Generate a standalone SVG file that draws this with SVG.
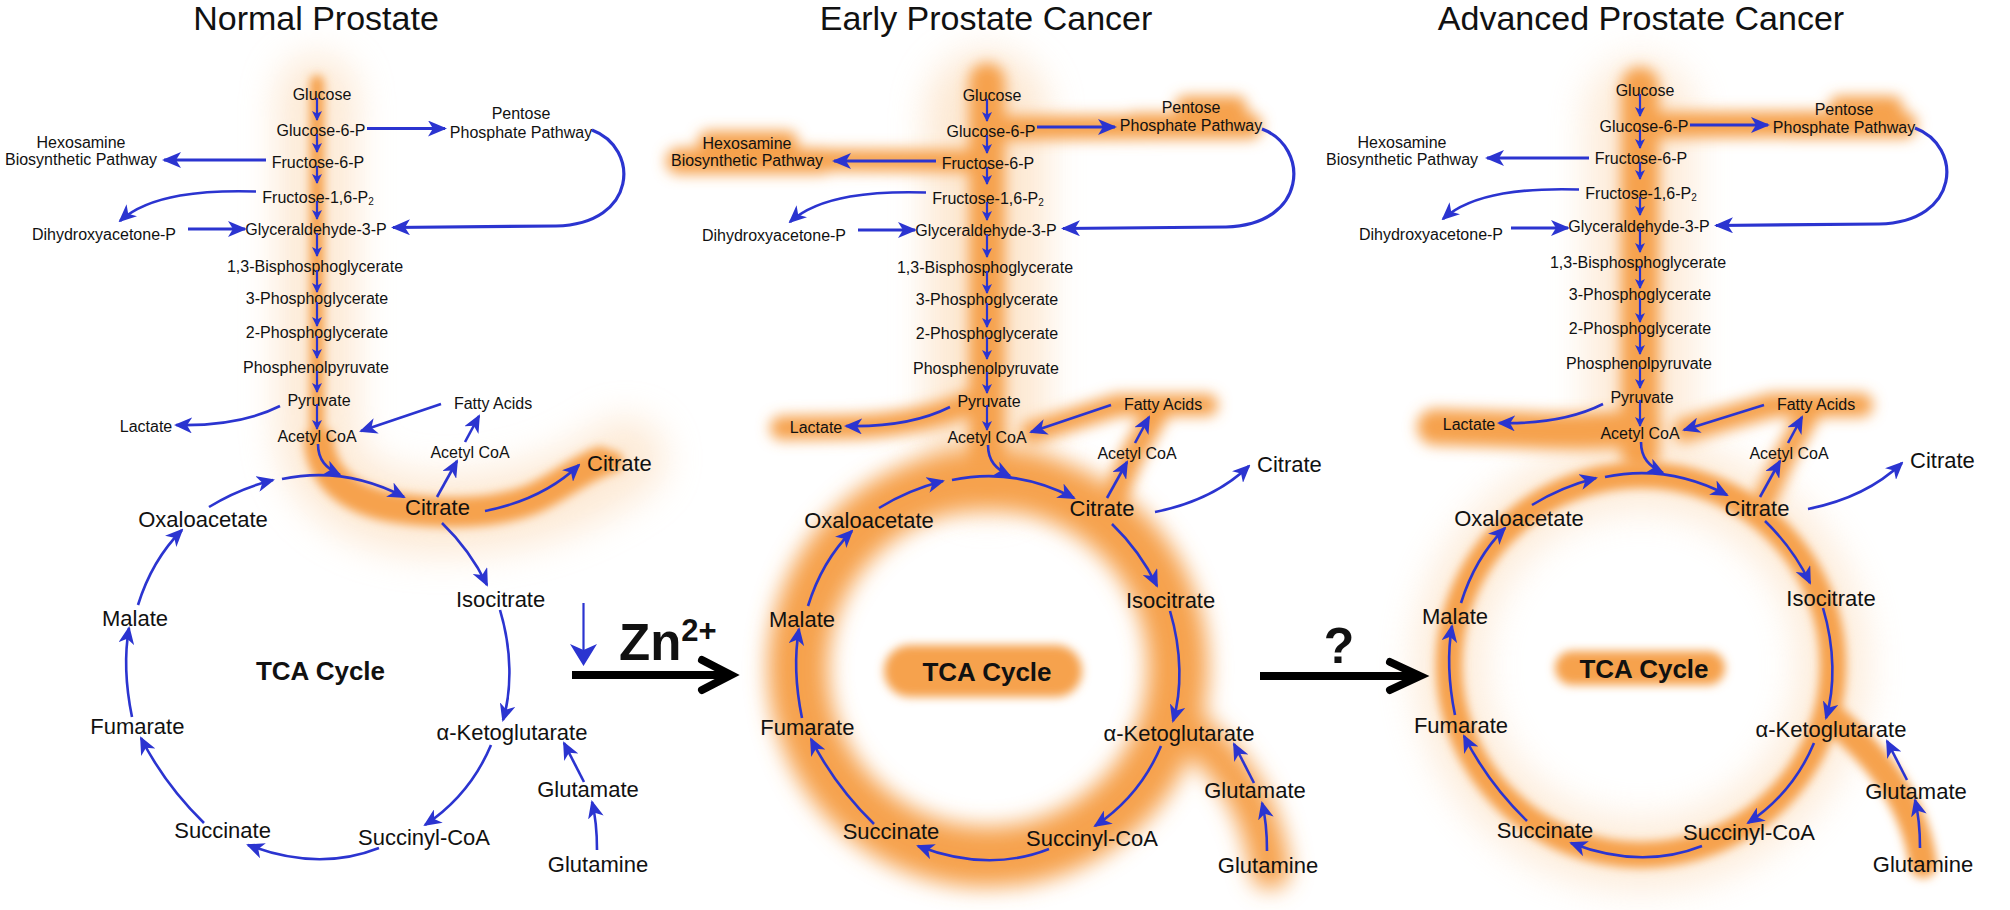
<svg xmlns="http://www.w3.org/2000/svg" width="2010" height="910" viewBox="0 0 2010 910">
<defs>
<style>
text{font-family:"Liberation Sans",Arial,Helvetica,sans-serif;fill:#111}
.ttl{font-size:34px;text-anchor:middle}
.g{font-size:16px;text-anchor:middle}
.t{font-size:22px;text-anchor:middle}
.tca{font-size:26px;font-weight:bold;text-anchor:middle}
.e{fill:none;stroke:#2b34d0;stroke-width:2.6;marker-end:url(#ah)}
.s{fill:none;stroke:#2b34d0;stroke-width:2.2;marker-end:url(#as)}
.w{fill:none;stroke:#2b34d0;stroke-width:3.2;marker-end:url(#aw)}
.o{fill:none;stroke:#f6a24e;stroke-linecap:round}
.of{fill:#f6a24e}
.h{fill:none;stroke:#fbd6ae;stroke-linecap:round}
.blk{fill:none;stroke:#000;stroke-width:8}
</style>
<marker id="ah" markerUnits="userSpaceOnUse" viewBox="0 0 18 16" markerWidth="18" markerHeight="16" refX="16" refY="8" orient="auto"><path d="M0,0 L18,8 L0,16 L5,8 Z" fill="#2b34d0"/></marker>
<marker id="aw" markerUnits="userSpaceOnUse" viewBox="0 0 19 16" markerWidth="19" markerHeight="16" refX="17" refY="8" orient="auto"><path d="M0,0 L19,8 L0,16 L5,8 Z" fill="#2b34d0"/></marker>
<marker id="as" markerUnits="userSpaceOnUse" viewBox="0 0 10 10" markerWidth="10" markerHeight="10" refX="9" refY="5" orient="auto"><path d="M0,0 L10,5 L0,10 L2.5,5 Z" fill="#2b34d0"/></marker>
<filter id="b5" filterUnits="userSpaceOnUse" x="-200" y="-100" width="2400" height="1100"><feGaussianBlur stdDeviation="5"/></filter>
<filter id="b7" filterUnits="userSpaceOnUse" x="-200" y="-100" width="2400" height="1100"><feGaussianBlur stdDeviation="7"/></filter>
<filter id="b11" filterUnits="userSpaceOnUse" x="-200" y="-100" width="2400" height="1100"><feGaussianBlur stdDeviation="11"/></filter>
<filter id="b18" filterUnits="userSpaceOnUse" x="-200" y="-100" width="2400" height="1100"><feGaussianBlur stdDeviation="18"/></filter>
</defs>
<rect width="2010" height="910" fill="#fff"/>

<!-- ===== Panel 1: Normal ===== -->
<g id="panel-normal">
 <g id="p1-glow">
  <g filter="url(#b18)" opacity="0.5"><path class="h" stroke-width="80" d="M317,95 L317,430 C317,490 380,515 440,515 C520,515 580,490 625,458"/></g>
  <g filter="url(#b5)">
   <path class="o" stroke-width="14" d="M317,82 L317,440"/>
   <path class="o" stroke-width="30" d="M319,442 C322,475 345,500 397,508 C440,514 490,515 530,500 C555,490 575,472 600,462"/>
   <path class="o" stroke-width="22" d="M590,462 L612,462"/>
  </g>
 </g>
 <g id="p1-nodes">
  <g id="p1-glucose"><text class="g" x="322" y="100">Glucose</text></g>
  <g id="p1-g6p"><text class="g" x="321" y="136">Glucose-6-P</text></g>
  <g id="p1-f6p"><text class="g" x="318" y="168">Fructose-6-P</text></g>
  <g id="p1-f16p2"><text class="g" x="318" y="203">Fructose-1,6-P<tspan font-size="10" dy="2">2</tspan></text></g>
  <g id="p1-g3p"><text class="g" x="316" y="235">Glyceraldehyde-3-P</text></g>
  <g id="p1-bpg"><text class="g" x="315" y="272">1,3-Bisphosphoglycerate</text></g>
  <g id="p1-3pg"><text class="g" x="317" y="304">3-Phosphoglycerate</text></g>
  <g id="p1-2pg"><text class="g" x="317" y="338">2-Phosphoglycerate</text></g>
  <g id="p1-pep"><text class="g" x="316" y="373">Phosphenolpyruvate</text></g>
  <g id="p1-pyruvate"><text class="g" x="319" y="406">Pyruvate</text></g>
  <g id="p1-acoa"><text class="g" x="317" y="442">Acetyl CoA</text></g>
  <g id="p1-ppp"><text class="g" x="521" y="119">Pentose</text><text class="g" x="521" y="137.5">Phosphate Pathway</text></g>
  <g id="p1-hex"><text class="g" x="81" y="147.5">Hexosamine</text><text class="g" x="81" y="165">Biosynthetic Pathway</text></g>
  <g id="p1-dhap"><text class="g" x="104" y="240">Dihydroxyacetone-P</text></g>
  <g id="p1-lactate"><text class="g" x="146" y="432">Lactate</text></g>
  <g id="p1-fatty"><text class="g" x="493" y="409">Fatty Acids</text></g>
  <g id="p1-acoa2"><text class="g" x="470" y="457.5">Acetyl CoA</text></g>
  <g id="p1-citrate-out"><text class="t" x="587" y="471" style="text-anchor:start">Citrate</text></g>
  <g id="p1-citrate"><text class="t" x="437.5" y="515">Citrate</text></g>
  <g id="p1-isocitrate"><text class="t" x="500.6" y="607">Isocitrate</text></g>
  <g id="p1-akg"><text class="t" x="512" y="740">α-Ketoglutarate</text></g>
  <g id="p1-succoa"><text class="t" x="424" y="845">Succinyl-CoA</text></g>
  <g id="p1-succinate"><text class="t" x="222.6" y="838">Succinate</text></g>
  <g id="p1-fumarate"><text class="t" x="137.4" y="734">Fumarate</text></g>
  <g id="p1-malate"><text class="t" x="135" y="626">Malate</text></g>
  <g id="p1-oaa"><text class="t" x="203" y="527">Oxaloacetate</text></g>
  <g id="p1-glutamate"><text class="t" x="588" y="797">Glutamate</text></g>
  <g id="p1-glutamine"><text class="t" x="598" y="872">Glutamine</text></g>
  <g id="p1-tca"><text class="tca" x="320.5" y="679.5">TCA Cycle</text></g>
 </g>
 <g id="p1-connectors">
  <path class="s" d="M317,98 L317,120"/><path class="s" d="M317,134 L317,152"/><path class="s" d="M317,166 L317,183"/>
  <path class="s" d="M317,201 L317,219"/><path class="s" d="M317,233 L317,256"/><path class="s" d="M317,270 L317,292"/>
  <path class="s" d="M317,302 L317,326"/><path class="s" d="M317,336 L317,358"/><path class="s" d="M317,371 L317,392"/>
  <path class="s" d="M317,404 L317,429"/>
  <path class="w" d="M367,128.5 L445,128.5"/>
  <path class="w" d="M266,160 L164,160"/>
  <path class="w" d="M188,229 L245,229"/>
  <path class="w" d="M592,130 C640,148 638,224 556,226 L393,227.5"/>
  <path class="e" d="M256,191.5 C205,190 150,194 120,221"/>
  <path class="e" d="M280,406 C250,421 215,426 176,425"/>
  <path class="e" d="M441,404 L361,431"/>
  <path class="e" d="M437,497 L457,461"/>
  <path class="e" d="M465,442 L479,416"/>
  <path class="e" d="M318,444 C318,460 326,468 340,475"/>
  <path class="e" d="M209,507 Q238,489 273,480"/>
  <path class="e" d="M282,479 Q345,466 404,497"/>
  <path class="e" d="M485,511 C525,503 555,488 579,465"/>
  <path class="e" d="M442,523 Q470,550 487,585"/>
  <path class="e" d="M500,610 C512,650 512,690 503,720"/>
  <path class="e" d="M491,745 Q470,795 425,825"/>
  <path class="e" d="M379,848 Q318,872 248,845"/>
  <path class="e" d="M204,823 Q165,785 141,738"/>
  <path class="e" d="M132,717 Q122,668 129,628"/>
  <path class="e" d="M138,605 Q152,560 182,530"/>
  <path class="e" d="M584,782 L564,743"/>
  <path class="e" d="M597,850 Q597,822 592,802"/>
 </g>
</g>

<!-- ===== Panel 2: Early ===== -->
<g id="panel-early" transform="translate(670,1)">
 <g id="p2-glow">
  <g filter="url(#b18)" opacity="0.55"><path class="h" stroke-width="120" d="M317,110 L317,450"/></g>
  <g filter="url(#b7)">
   <path class="o" stroke-width="36" d="M317,80 L317,470"/>
   <path class="o" stroke-width="24" d="M320,127 L500,126"/>
   <rect class="of" x="452" y="112" width="140" height="26" rx="13"/>
   <rect class="of" x="505" y="95" width="72" height="22" rx="11"/>
   <path class="o" stroke-width="22" d="M160,159 L300,160"/>
   <rect class="of" x="-4" y="147" width="168" height="26" rx="13"/>
   <rect class="of" x="28" y="130" width="100" height="22" rx="11"/>
   <path class="o" stroke-width="24" d="M112,427 L178,426 C222,425 262,418 300,402"/>
   <path class="o" stroke-width="22" d="M537,404 L448,404 L362,431"/>
   <path class="o" stroke-width="24" d="M440,505 L462,455 L488,410"/>
  </g>
  <g filter="url(#b11)">
   <ellipse cx="318" cy="667" rx="190" ry="189" fill="none" stroke="#f6a24e" stroke-width="60"/>
   <path class="o" stroke-width="40" d="M515,725 C560,760 592,805 600,868"/>
  </g>
  <g filter="url(#b5)"><rect class="of" x="214" y="644" width="198" height="52" rx="26"/></g>
 </g>
 <g id="p2-nodes">
  <g id="p2-glucose"><text class="g" x="322" y="100">Glucose</text></g>
  <g id="p2-g6p"><text class="g" x="321" y="136">Glucose-6-P</text></g>
  <g id="p2-f6p"><text class="g" x="318" y="168">Fructose-6-P</text></g>
  <g id="p2-f16p2"><text class="g" x="318" y="203">Fructose-1,6-P<tspan font-size="10" dy="2">2</tspan></text></g>
  <g id="p2-g3p"><text class="g" x="316" y="235">Glyceraldehyde-3-P</text></g>
  <g id="p2-bpg"><text class="g" x="315" y="272">1,3-Bisphosphoglycerate</text></g>
  <g id="p2-3pg"><text class="g" x="317" y="304">3-Phosphoglycerate</text></g>
  <g id="p2-2pg"><text class="g" x="317" y="338">2-Phosphoglycerate</text></g>
  <g id="p2-pep"><text class="g" x="316" y="373">Phosphenolpyruvate</text></g>
  <g id="p2-pyruvate"><text class="g" x="319" y="406">Pyruvate</text></g>
  <g id="p2-acoa"><text class="g" x="317" y="442">Acetyl CoA</text></g>
  <g id="p2-ppp"><text class="g" x="521" y="112">Pentose</text><text class="g" x="521" y="130">Phosphate Pathway</text></g>
  <g id="p2-hex"><text class="g" x="77" y="147.5">Hexosamine</text><text class="g" x="77" y="165">Biosynthetic Pathway</text></g>
  <g id="p2-dhap"><text class="g" x="104" y="240">Dihydroxyacetone-P</text></g>
  <g id="p2-lactate"><text class="g" x="146" y="432">Lactate</text></g>
  <g id="p2-fatty"><text class="g" x="493" y="409">Fatty Acids</text></g>
  <g id="p2-acoa2"><text class="g" x="467" y="457.5">Acetyl CoA</text></g>
  <g id="p2-citrate-out"><text class="t" x="587" y="471" style="text-anchor:start">Citrate</text></g>
  <g id="p2-citrate"><text class="t" x="432" y="515">Citrate</text></g>
  <g id="p2-isocitrate"><text class="t" x="500.6" y="607">Isocitrate</text></g>
  <g id="p2-akg"><text class="t" x="509" y="740">α-Ketoglutarate</text></g>
  <g id="p2-succoa"><text class="t" x="422" y="845">Succinyl-CoA</text></g>
  <g id="p2-succinate"><text class="t" x="221" y="838">Succinate</text></g>
  <g id="p2-fumarate"><text class="t" x="137.4" y="734">Fumarate</text></g>
  <g id="p2-malate"><text class="t" x="132" y="626">Malate</text></g>
  <g id="p2-oaa"><text class="t" x="199" y="527">Oxaloacetate</text></g>
  <g id="p2-glutamate"><text class="t" x="585" y="797">Glutamate</text></g>
  <g id="p2-glutamine"><text class="t" x="598" y="872">Glutamine</text></g>
  <g id="p2-tca"><text class="tca" x="317" y="679.5">TCA Cycle</text></g>
 </g>
 <g id="p2-connectors">
  <path class="s" d="M317,98 L317,120"/><path class="s" d="M317,134 L317,152"/><path class="s" d="M317,166 L317,183"/>
  <path class="s" d="M317,201 L317,219"/><path class="s" d="M317,233 L317,256"/><path class="s" d="M317,270 L317,292"/>
  <path class="s" d="M317,302 L317,326"/><path class="s" d="M317,336 L317,358"/><path class="s" d="M317,371 L317,392"/>
  <path class="s" d="M317,404 L317,429"/>
  <path class="w" d="M367,126 L445,126"/>
  <path class="w" d="M266,160 L164,160"/>
  <path class="w" d="M188,229 L245,229"/>
  <path class="w" d="M592,128 C640,146 638,224 556,226 L393,227.5"/>
  <path class="e" d="M256,191.5 C205,190 150,194 120,221"/>
  <path class="e" d="M280,406 C250,421 215,426 176,425"/>
  <path class="e" d="M441,404 L361,431"/>
  <path class="e" d="M437,497 L457,461"/>
  <path class="e" d="M465,442 L479,416"/>
  <path class="e" d="M318,444 C318,460 326,468 340,475"/>
  <path class="e" d="M209,507 Q238,489 273,480"/>
  <path class="e" d="M282,479 Q345,466 404,497"/>
  <path class="e" d="M485,511 C525,503 555,488 579,465"/>
  <path class="e" d="M442,523 Q470,550 487,585"/>
  <path class="e" d="M500,610 C512,650 512,690 503,720"/>
  <path class="e" d="M491,745 Q470,795 425,825"/>
  <path class="e" d="M379,848 Q318,872 248,845"/>
  <path class="e" d="M204,823 Q165,785 141,738"/>
  <path class="e" d="M132,717 Q122,668 129,628"/>
  <path class="e" d="M138,605 Q152,560 182,530"/>
  <path class="e" d="M584,782 L564,743"/>
  <path class="e" d="M597,850 Q597,822 592,802"/>
 </g>
</g>

<!-- ===== Panel 3: Advanced ===== -->
<g id="panel-advanced" transform="translate(1323,-2)">
 <g id="p3-glow">
  <g filter="url(#b18)" opacity="0.45">
   <path class="h" stroke-width="110" d="M317,115 L317,445"/>
   <ellipse cx="318" cy="667" rx="192" ry="190" fill="none" stroke="#fbd6ae" stroke-width="70"/>
  </g>
  <g filter="url(#b7)">
   <path class="o" stroke-width="38" d="M317,88 L317,455"/>
   <path class="o" stroke-width="26" d="M330,127 L500,126"/>
   <rect class="of" x="452" y="114" width="142" height="26" rx="13"/>
   <rect class="of" x="506" y="98" width="74" height="22" rx="11"/>
   <path class="o" stroke-width="36" d="M112,429 L200,432 C250,435 290,432 320,430"/>
   <path class="o" stroke-width="24" d="M538,407 L450,407 L362,432"/>
   <path class="o" stroke-width="22" d="M440,505 L462,458 L488,412"/>
  </g>
  <g filter="url(#b5)">
   <ellipse cx="318" cy="667" rx="192" ry="190" fill="none" stroke="#f6a24e" stroke-width="26"/>
   <path class="o" stroke-width="28" d="M512,722 C555,760 592,805 600,866"/>
   <rect class="of" x="232" y="653" width="170" height="34" rx="17"/>
  </g>
 </g>
 <g id="p3-nodes">
  <g id="p3-glucose"><text class="g" x="322" y="98">Glucose</text></g>
  <g id="p3-g6p"><text class="g" x="321" y="134">Glucose-6-P</text></g>
  <g id="p3-f6p"><text class="g" x="318" y="166">Fructose-6-P</text></g>
  <g id="p3-f16p2"><text class="g" x="318" y="201">Fructose-1,6-P<tspan font-size="10" dy="2">2</tspan></text></g>
  <g id="p3-g3p"><text class="g" x="316" y="234">Glyceraldehyde-3-P</text></g>
  <g id="p3-bpg"><text class="g" x="315" y="270">1,3-Bisphosphoglycerate</text></g>
  <g id="p3-3pg"><text class="g" x="317" y="302">3-Phosphoglycerate</text></g>
  <g id="p3-2pg"><text class="g" x="317" y="336">2-Phosphoglycerate</text></g>
  <g id="p3-pep"><text class="g" x="316" y="371">Phosphenolpyruvate</text></g>
  <g id="p3-pyruvate"><text class="g" x="319" y="405">Pyruvate</text></g>
  <g id="p3-acoa"><text class="g" x="317" y="441">Acetyl CoA</text></g>
  <g id="p3-ppp"><text class="g" x="521" y="117">Pentose</text><text class="g" x="521" y="135">Phosphate Pathway</text></g>
  <g id="p3-hex"><text class="g" x="79" y="149.5">Hexosamine</text><text class="g" x="79" y="167">Biosynthetic Pathway</text></g>
  <g id="p3-dhap"><text class="g" x="108" y="242">Dihydroxyacetone-P</text></g>
  <g id="p3-lactate"><text class="g" x="146" y="432">Lactate</text></g>
  <g id="p3-fatty"><text class="g" x="493" y="412">Fatty Acids</text></g>
  <g id="p3-acoa2"><text class="g" x="466" y="461">Acetyl CoA</text></g>
  <g id="p3-citrate-out"><text class="t" x="587" y="470" style="text-anchor:start">Citrate</text></g>
  <g id="p3-citrate"><text class="t" x="434" y="518">Citrate</text></g>
  <g id="p3-isocitrate"><text class="t" x="508" y="608">Isocitrate</text></g>
  <g id="p3-akg"><text class="t" x="508" y="739">α-Ketoglutarate</text></g>
  <g id="p3-succoa"><text class="t" x="426" y="842">Succinyl-CoA</text></g>
  <g id="p3-succinate"><text class="t" x="222" y="840">Succinate</text></g>
  <g id="p3-fumarate"><text class="t" x="138" y="735">Fumarate</text></g>
  <g id="p3-malate"><text class="t" x="132" y="626">Malate</text></g>
  <g id="p3-oaa"><text class="t" x="196" y="528">Oxaloacetate</text></g>
  <g id="p3-glutamate"><text class="t" x="593" y="801">Glutamate</text></g>
  <g id="p3-glutamine"><text class="t" x="600" y="874">Glutamine</text></g>
  <g id="p3-tca"><text class="tca" x="321" y="679.5">TCA Cycle</text></g>
 </g>
 <g id="p3-connectors">
  <path class="s" d="M317,96 L317,118"/><path class="s" d="M317,132 L317,150"/><path class="s" d="M317,164 L317,181"/>
  <path class="s" d="M317,199 L317,217"/><path class="s" d="M317,231 L317,254"/><path class="s" d="M317,268 L317,290"/>
  <path class="s" d="M317,300 L317,324"/><path class="s" d="M317,334 L317,356"/><path class="s" d="M317,369 L317,390"/>
  <path class="s" d="M317,402 L317,428"/>
  <path class="w" d="M367,127 L445,127"/>
  <path class="w" d="M266,160 L164,160"/>
  <path class="w" d="M188,230 L245,230"/>
  <path class="w" d="M592,130 C640,148 638,224 556,226 L393,227.5"/>
  <path class="e" d="M256,191.5 C205,190 150,194 120,221"/>
  <path class="e" d="M280,406 C250,421 215,426 176,425"/>
  <path class="e" d="M441,407 L361,432"/>
  <path class="e" d="M437,499 L457,463"/>
  <path class="e" d="M465,445 L479,419"/>
  <path class="e" d="M318,444 C318,460 326,468 340,475"/>
  <path class="e" d="M209,507 Q238,489 273,480"/>
  <path class="e" d="M282,479 Q345,466 404,497"/>
  <path class="e" d="M485,511 C525,503 555,488 579,465"/>
  <path class="e" d="M442,523 Q470,550 487,585"/>
  <path class="e" d="M500,610 C512,650 512,690 503,720"/>
  <path class="e" d="M491,745 Q470,795 425,825"/>
  <path class="e" d="M379,848 Q318,872 248,845"/>
  <path class="e" d="M204,823 Q165,785 141,738"/>
  <path class="e" d="M132,717 Q122,668 129,628"/>
  <path class="e" d="M138,605 Q152,560 182,530"/>
  <path class="e" d="M584,782 L564,743"/>
  <path class="e" d="M597,850 Q597,822 592,802"/>
 </g>
</g>

<!-- ===== transitions ===== -->
<g id="transition-zn">
 <path d="M583.5,603 L583.5,652" stroke="#2b34d0" stroke-width="2.2" fill="none"/>
 <path d="M570,644 L583.5,650 L597,644 L583.5,666 Z" fill="#2b34d0"/>
 <text x="619" y="660" style="font-size:51px;font-weight:bold">Zn<tspan font-size="31" dy="-19">2+</tspan></text>
 <path class="blk" d="M572,675 L728,675"/>
 <path class="blk" d="M702,660 L731,675 L702,690" stroke-linecap="round"/>
</g>
<g id="transition-q">
 <text x="1339" y="663" style="font-size:50px;font-weight:bold;text-anchor:middle">?</text>
 <path class="blk" d="M1260,676 L1417,676"/>
 <path class="blk" d="M1390,662 L1420,676 L1390,690" stroke-linecap="round"/>
</g>

<!-- titles -->
<g id="title-normal"><text class="ttl" x="316" y="30">Normal Prostate</text></g>
<g id="title-early"><text class="ttl" x="986" y="30">Early Prostate Cancer</text></g>
<g id="title-advanced"><text class="ttl" x="1641" y="30">Advanced Prostate Cancer</text></g>
</svg>
